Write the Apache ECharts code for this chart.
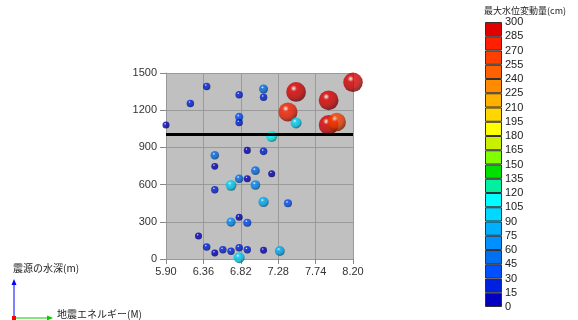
<!DOCTYPE html>
<html>
<head>
<meta charset="utf-8">
<script src="https://cdn.jsdelivr.net/npm/echarts@6/dist/echarts.min.js"></script>
<style>
  html, body { margin: 0; padding: 0; background: #fff; }
  #chart { width: 578px; height: 320px; }
</style>
</head>
<body>
<div id="chart"></div>
<script>
// magnitude (M), hypocentre depth (m), max water level change (cm)
const magnitude = [5.9, 6.2, 6.4, 6.8, 7.1, 7.1, 6.8, 6.8, 7.5, 7.4, 7.9, 8.2, 7.9, 8.0,
  7.5, 7.2, 6.9, 7.1, 6.5, 6.5, 7.0, 7.2, 6.8, 6.9, 6.7, 7.0, 6.5, 7.1, 7.4, 6.8, 6.7,
  6.9, 6.3, 6.4, 6.5, 6.6, 6.7, 6.8, 6.9, 7.1, 7.3, 6.8];
const depth = [1080, 1255, 1392, 1325, 1371, 1304, 1145, 1100, 1347, 1185, 1280, 1425, 1081, 1105,
  1097, 989, 876, 868, 836, 747, 712, 688, 648, 648, 594, 597, 559, 460, 449, 336, 298,
  293, 185, 97, 48, 75, 62, 91, 75, 70, 65, 11];
const waterChange = [12, 22, 22, 22, 55, 22, 40, 22, 295, 280, 295, 290, 295, 265,
  100, 105, 12, 25, 45, 10, 50, 12, 45, 12, 95, 70, 20, 85, 35, 12, 60,
  35, 12, 25, 10, 20, 20, 25, 20, 10, 75, 100];

const xTicks = [5.90, 6.36, 6.82, 7.28, 7.74, 8.20];
const thresholdDepth = 1010;

// colour scale, one entry per 15 cm step (0 -> 300)
const palette = ['#0000c0', '#0020e0', '#0050ff', '#0070f0', '#0090ff', '#00b0ff', '#00d8ff',
  '#00ffff', '#00f0a0', '#00e000', '#80ff00', '#c8f000', '#ffff00', '#ffd700', '#ffb000',
  '#ff8c00', '#ff6000', '#ff4000', '#ff2000', '#e00000'];
const step = 15;

const FONT = '"Liberation Sans Narrow", "Liberation Sans", sans-serif';
const JP = '"Noto Sans CJK JP", sans-serif';

function colorFor(v) {
  return palette[Math.min(palette.length - 1, Math.floor(v / step))];
}

function darken(hex, f) {
  const n = parseInt(hex.slice(1), 16);
  const r = Math.round(((n >> 16) & 255) * f);
  const g = Math.round(((n >> 8) & 255) * f);
  const b = Math.round((n & 255) * f);
  return `rgb(${r},${g},${b})`;
}

// shaded sphere look
function ball(c) {
  return new echarts.graphic.RadialGradient(0.38, 0.32, 0.72, [
    { offset: 0, color: 'rgba(255,255,255,0.95)' },
    { offset: 0.22, color: c },
    { offset: 0.65, color: darken(c, 0.85) },
    { offset: 1, color: darken(c, 0.4) },
  ]);
}

const points = magnitude.map((m, i) => ({
  value: [m, depth[i], waterChange[i]],
  symbolSize: 6.5 + waterChange[i] * 0.045,
  itemStyle: { color: ball(colorFor(waterChange[i])) },
}));

const barSeries = palette.map((c) => ({
  type: 'bar',
  xAxisIndex: 1,
  yAxisIndex: 1,
  stack: 'scale',
  barWidth: '100%',
  silent: true,
  data: [step],
  itemStyle: { color: c, borderColor: '#333', borderWidth: 1 },
}));

const chart = echarts.init(document.getElementById('chart'), null, { renderer: 'canvas' });

chart.setOption({
  animation: false,
  grid: [
    { left: 166, right: 225, top: 73, bottom: 61, show: true, backgroundColor: '#c0c0c0', borderWidth: 0 },
    { left: 485, width: 17, top: 22, height: 285 },
  ],
  xAxis: [
    {
      type: 'value',
      min: 5.9,
      max: 8.2,
      axisLine: { show: true, lineStyle: { color: '#999' } },
      axisTick: { show: true, length: 5, lineStyle: { color: '#888' }, customValues: xTicks },
      axisLabel: {
        customValues: xTicks,
        formatter: (v) => v.toFixed(2),
        color: '#333', fontSize: 11, fontFamily: FONT, margin: 7,
      },
      splitLine: { show: true, lineStyle: { color: '#9a9a9a' } },
    },
    { gridIndex: 1, type: 'category', data: [''], show: false },
  ],
  yAxis: [
    {
      type: 'value',
      min: 0,
      max: 1500,
      interval: 300,
      axisLine: { show: true, lineStyle: { color: '#999' } },
      axisTick: { show: true, length: 6, lineStyle: { color: '#888' } },
      axisLabel: { color: '#333', fontSize: 11, fontFamily: FONT, margin: 9, formatter: (v) => String(v) },
      splitLine: { show: true, lineStyle: { color: '#9a9a9a' } },
    },
    {
      gridIndex: 1,
      type: 'value',
      position: 'right',
      min: 0,
      max: 300,
      interval: step,
      axisLine: { show: false },
      axisTick: { show: false },
      splitLine: { show: false },
      axisLabel: { color: '#222', fontSize: 11, fontFamily: FONT, margin: 3 },
    },
  ],
  series: [
    {
      type: 'scatter',
      clip: false,
      data: points,
      markLine: {
        silent: true,
        symbol: 'none',
        label: { show: false },
        lineStyle: { color: '#000', width: 3, type: 'solid' },
        data: [{ yAxis: thresholdDepth }],
      },
    },
    ...barSeries,
  ],
  graphic: [
    {
      type: 'text', left: 484, top: 6,
      style: { text: '最大水位変動量(cm)', fontSize: 9, fontFamily: JP, fill: '#222' },
    },
    {
      type: 'text', left: 13, top: 263,
      style: { text: '震源の水深(m)', fontSize: 10, fontFamily: JP, fill: '#222' },
    },
    {
      type: 'text', left: 57, top: 309,
      style: { text: '地震エネルギー(M)', fontSize: 10, fontFamily: JP, fill: '#222' },
    },
    { type: 'line', shape: { x1: 14, y1: 318, x2: 14, y2: 284 }, style: { stroke: '#0000ff', lineWidth: 1 } },
    { type: 'polygon', shape: { points: [[14, 279], [11.5, 285], [16.5, 285]] }, style: { fill: '#0000ff' } },
    { type: 'line', shape: { x1: 14, y1: 318, x2: 48, y2: 318 }, style: { stroke: '#00cc00', lineWidth: 1 } },
    { type: 'polygon', shape: { points: [[53, 318], [47, 315.5], [47, 320.5]] }, style: { fill: '#00cc00' } },
    { type: 'rect', shape: { x: 12, y: 316, width: 4, height: 4 }, style: { fill: '#ff0000' } },
  ],
});
</script>
</body>
</html>
